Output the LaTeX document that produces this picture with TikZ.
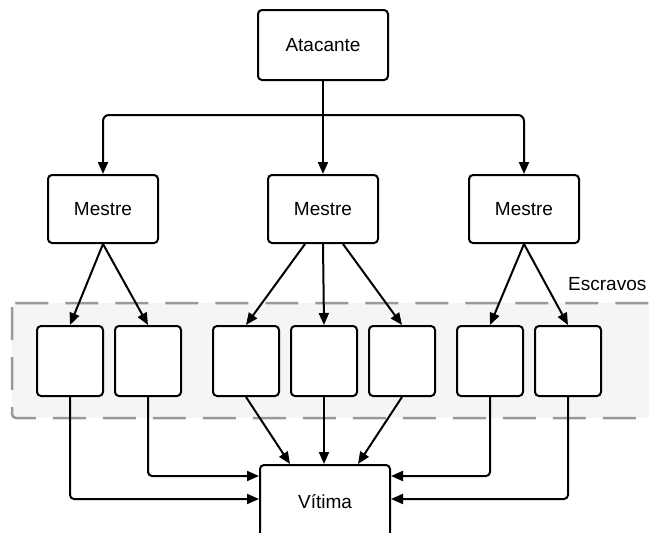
\documentclass[tikz,border=0pt]{standalone}
\usepackage{fontspec}
\setmainfont{Liberation Sans}
\usetikzlibrary{arrows.meta}
\tikzset{
  caixa/.style={draw,line width=2pt,rounded corners=4pt,fill=white,
    minimum width=#1,inner sep=0pt},
  seta/.style={line width=2pt,-{Triangle[length=12pt,width=10pt]}},
  linha/.style={line width=2pt},
  regiao/.style={draw=gray!80,fill=gray!8,line width=2.5pt,rounded corners=4pt,
    dash pattern=on 33pt off 17pt}
}
\begin{document}
\begin{tikzpicture}[x=1pt,y=-1pt,font=\fontsize{19}{22}\selectfont]
\useasboundingbox (0,0) rectangle (649,533);
\pgfmathsetmacro{\ys}{361}
%
\draw[regiao](12,303) rectangle (670,418);
\node[anchor=base west,inner sep=0pt](esc) at (568,290){Escravos};
%
\node[caixa=130pt,minimum height=70pt](ata) at (323,45){Atacante};
\node[caixa=110pt,minimum height=68pt](m1) at (103,209){Mestre};
\node[caixa=110pt,minimum height=68pt](m2) at (323,209){Mestre};
\node[caixa=110pt,minimum height=68pt](m3) at (524,209){Mestre};
\node[caixa=130pt,minimum height=74pt](vit) at (325,502){Vítima};
%
\node[caixa=66pt,minimum height=70pt](s1) at (70,\ys){};
\node[caixa=66pt,minimum height=70pt](s2) at (148,\ys){};
\node[caixa=66pt,minimum height=70pt](s3) at (246,\ys){};
\node[caixa=66pt,minimum height=70pt](s4) at (324,\ys){};
\node[caixa=66pt,minimum height=70pt](s5) at (402,\ys){};
\node[caixa=66pt,minimum height=70pt](s6) at (490,\ys){};
\node[caixa=66pt,minimum height=70pt](s7) at (568,\ys){};
%
\coordinate (div) at (323,115);
\draw[linha](ata.south)--(div);
\draw[seta,rounded corners=6pt](div)-|(m1.north);
\draw[seta](div)--(m2.north);
\draw[seta,rounded corners=6pt](div)-|(m3.north);
%
\draw[seta](m1.south)--(s1.north);
\draw[seta](m1.south)--(s2.north);
\draw[seta]([xshift=-18pt]m2.south)--(s3.north);
\draw[seta](m2.south)--(s4.north);
\draw[seta]([xshift=20pt]m2.south)--(s5.north);
\draw[seta](m3.south)--(s6.north);
\draw[seta](m3.south)--(s7.north);
%
\draw[seta,rounded corners=4pt](s1.south)|-([yshift=-35pt]vit.north west);
\draw[seta,rounded corners=4pt](s2.south)|-([yshift=-12pt]vit.north west);
\draw[seta](s3.south)--([xshift=-35pt]vit.north);
\draw[seta](s4.south)--(s4.south|-vit.north);
\draw[seta](s5.south)--([xshift=33pt]vit.north);
\draw[seta,rounded corners=4pt](s6.south)|-([yshift=-12pt]vit.north east);
\draw[seta,rounded corners=4pt](s7.south)|-([yshift=-35pt]vit.north east);
\end{tikzpicture}
\end{document}
